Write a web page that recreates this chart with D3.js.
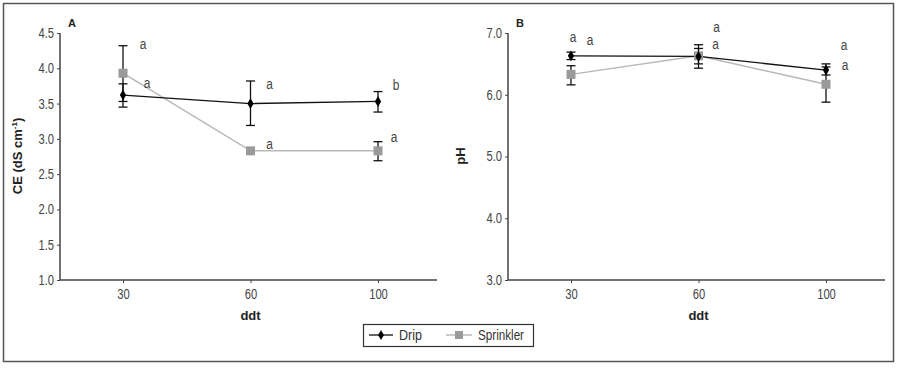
<!DOCTYPE html>
<html><head><meta charset="UTF-8">
<style>
body { margin: 0; background: #fff; }
text { font-family: "Liberation Sans Narrow", "Arial Narrow", "Liberation Sans", sans-serif; }
</style>
</head>
<body>
<svg width="902" height="368"></svg>
<script src="https://cdn.jsdelivr.net/npm/d3@7"></script>
<script>

var days = ["30", "60", "100"];

// panel A - CE
var ceDrip = [3.62, 3.50, 3.53];
var ceDripLo = [3.45, 3.19, 3.38];
var ceDripHi = [3.78, 3.82, 3.67];
var ceSprink = [3.93, 2.83, 2.83];
var ceSprinkLo = [3.53, 2.81, 2.69];
var ceSprinkHi = [4.32, 2.85, 2.96];
var ceDripLetters = ["a", "a", "b"];
var ceSprinkLetters = ["a", "a", "a"];
var ceDripLetterAt = [3.78, 3.77, 3.75];
var ceSprinkLetterAt = [4.33, 2.91, 3.02];

// panel B - pH
var phDrip = [6.63, 6.62, 6.40];
var phDripLo = [6.57, 6.50, 6.32];
var phDripHi = [6.69, 6.75, 6.50];
var phSprink = [6.33, 6.63, 6.17];
var phSprinkLo = [6.16, 6.43, 5.88];
var phSprinkHi = [6.47, 6.81, 6.45];
var phDripLetters = ["a", "a", "a"];
var phSprinkLetters = ["a", "a", "a"];
var phDripLetterAt = [6.93, 7.08, 6.79];
var phSprinkLetterAt = [6.88, 6.81, 6.47];

var ceTicks = [1.0, 1.5, 2.0, 2.5, 3.0, 3.5, 4.0, 4.5];
var phTicks = [3.0, 4.0, 5.0, 6.0, 7.0];

var svg = d3.select("svg");

// no narrow font here, so squeeze the glyphs a bit
function condense(sel, k) {
    sel.each(function() {
        var w = this.getComputedTextLength();
        d3.select(this).attr("textLength", w * k).attr("lengthAdjust", "spacingAndGlyphs");
    });
}

svg.append("rect")
    .attr("x", 3.5).attr("y", 3.5)
    .attr("width", 890).attr("height", 358)
    .attr("fill", "none").attr("stroke", "#555").attr("stroke-width", 1.5);

function series(vals, lo, hi, letters, letterAt) {
    return days.map(function(d, i) {
        return { day: d, v: vals[i], lo: lo[i], hi: hi[i], letter: letters[i], at: letterAt[i] };
    });
}

function panel(opt) {
    var g = svg.append("g").attr("transform", "translate(" + opt.left + ",0)");
    var axisLen = 377;

    var x = d3.scalePoint().domain(days).range([63, 318]);
    var y = d3.scaleLinear().domain(opt.domain).range([280, 33]);

    // axes
    var ya = g.append("g")
        .call(d3.axisLeft(y).tickValues(opt.ticks).tickFormat(d3.format(".1f")).tickSize(3).tickSizeOuter(0));
    ya.select(".domain").remove();
    ya.selectAll("line").attr("stroke", "#444");
    ya.selectAll("text").attr("font-size", 14).attr("fill", "#444").attr("x", -6);
    condense(ya.selectAll("text"), 0.8);

    var xa = g.append("g").attr("transform", "translate(0,280)")
        .call(d3.axisBottom(x).tickSize(3).tickSizeOuter(0));
    xa.select(".domain").remove();
    xa.selectAll("line").attr("stroke", "#444");
    xa.selectAll("text").attr("font-size", 14).attr("fill", "#444").attr("y", 9);
    condense(xa.selectAll("text"), 0.8);

    g.append("line").attr("x1", 0).attr("x2", 0).attr("y1", 33).attr("y2", 280)
        .attr("stroke", "#444").attr("stroke-width", 1.5);
    g.append("line").attr("x1", 0).attr("x2", axisLen).attr("y1", 280).attr("y2", 280)
        .attr("stroke", "#444").attr("stroke-width", 1.5);

    g.append("text").attr("x", x.range()[0] + (x.range()[1] - x.range()[0]) / 2).attr("y", 320)
        .attr("text-anchor", "middle").attr("font-size", 13).attr("font-weight", "bold")
        .attr("fill", "#222").text("ddt");

    g.append("text").attr("x", 8).attr("y", 27)
        .attr("font-size", 11).attr("font-weight", "bold").attr("fill", "#222").text(opt.tag);

    var yl = g.append("text")
        .attr("transform", "translate(" + opt.ylabelX + ",156) rotate(-90)")
        .attr("text-anchor", "middle").attr("font-size", 13).attr("font-weight", "bold").attr("fill", "#222");
    yl.append("tspan").text(opt.ylabel);
    if (opt.sup) {
        yl.append("tspan").attr("font-size", 8).attr("dy", -5).text(opt.sup);
        yl.append("tspan").attr("dy", 5).text(")");
    }

    var line = d3.line().x(function(d) { return x(d.day); }).y(function(d) { return y(d.v); });

    // sprinkler
    g.append("path").datum(opt.sprink).attr("d", line)
        .attr("fill", "none").attr("stroke", "#b8b8b8").attr("stroke-width", 1.5);
    // drip
    g.append("path").datum(opt.drip).attr("d", line)
        .attr("fill", "none").attr("stroke", "#111").attr("stroke-width", 1.3);

    function errBars(data) {
        var eb = g.append("g").attr("stroke", "#111").attr("stroke-width", 1.3);
        eb.selectAll(".v").data(data).enter().append("line")
            .attr("x1", function(d) { return x(d.day); }).attr("x2", function(d) { return x(d.day); })
            .attr("y1", function(d) { return y(d.lo); }).attr("y2", function(d) { return y(d.hi); });
        ["lo", "hi"].forEach(function(k) {
            eb.selectAll(".c" + k).data(data).enter().append("line")
                .attr("x1", function(d) { return x(d.day) - 4.5; }).attr("x2", function(d) { return x(d.day) + 4.5; })
                .attr("y1", function(d) { return y(d[k]); }).attr("y2", function(d) { return y(d[k]); });
        });
    }
    errBars(opt.sprink);
    errBars(opt.drip);

    g.selectAll(".sq").data(opt.sprink).enter().append("rect")
        .attr("x", function(d) { return x(d.day) - 4.5; }).attr("y", function(d) { return y(d.v) - 4.5; })
        .attr("width", 9).attr("height", 9).attr("fill", "#9a9a9a");
    g.selectAll(".dm").data(opt.drip).enter().append("path")
        .attr("d", d3.symbol().type(d3.symbolDiamond).size(34))
        .attr("transform", function(d) { return "translate(" + x(d.day) + "," + y(d.v) + ")"; })
        .attr("fill", "#000");

    function letters(data, dx) {
        var t = g.selectAll(null).data(data).enter().append("text")
            .attr("x", function(d, i) { return x(d.day) + dx[i]; })
            .attr("y", function(d) { return y(d.at); })
            .attr("dy", "0.3em").attr("text-anchor", "middle")
            .attr("font-size", 14).attr("fill", "#444")
            .text(function(d) { return d.letter; });
        condense(t, 0.85);
    }
    letters(opt.drip, opt.dripDx);
    letters(opt.sprink, opt.sprinkDx);
}

panel({
    left: 60, tag: "A", domain: [1, 4.5], ticks: ceTicks,
    ylabel: "CE (dS cm", sup: "-1", ylabelX: -38,
    drip: series(ceDrip, ceDripLo, ceDripHi, ceDripLetters, ceDripLetterAt),
    sprink: series(ceSprink, ceSprinkLo, ceSprinkHi, ceSprinkLetters, ceSprinkLetterAt),
    dripDx: [24, 19, 18], sprinkDx: [20, 19, 16]
});

panel({
    left: 508, tag: "B", domain: [3, 7], ticks: phTicks,
    ylabel: "pH", ylabelX: -43,
    drip: series(phDrip, phDripLo, phDripHi, phDripLetters, phDripLetterAt),
    sprink: series(phSprink, phSprinkLo, phSprinkHi, phSprinkLetters, phSprinkLetterAt),
    dripDx: [2, 18, 18], sprinkDx: [19, 17, 19]
});

// legend
var lg = svg.append("g");
lg.append("rect").attr("x", 363.5).attr("y", 324.5).attr("width", 170).attr("height", 22)
    .attr("fill", "#fff").attr("stroke", "#333").attr("stroke-width", 1.2);
lg.append("line").attr("x1", 369).attr("x2", 393).attr("y1", 335).attr("y2", 335)
    .attr("stroke", "#111").attr("stroke-width", 1.3);
lg.append("path").attr("d", d3.symbol().type(d3.symbolDiamond).size(30))
    .attr("transform", "translate(381,335)").attr("fill", "#000");
lg.append("text").attr("x", 399).attr("y", 335).attr("dy", "0.35em")
    .attr("font-size", 14).attr("fill", "#333").attr("textLength", 23).attr("lengthAdjust", "spacingAndGlyphs")
    .text("Drip");
lg.append("line").attr("x1", 446).attr("x2", 472).attr("y1", 335).attr("y2", 335)
    .attr("stroke", "#b8b8b8").attr("stroke-width", 1.5);
lg.append("rect").attr("x", 455).attr("y", 331).attr("width", 8).attr("height", 8).attr("fill", "#9a9a9a");
lg.append("text").attr("x", 478).attr("y", 335).attr("dy", "0.35em")
    .attr("font-size", 14).attr("fill", "#333").attr("textLength", 46).attr("lengthAdjust", "spacingAndGlyphs")
    .text("Sprinkler");

</script>
</body></html>
